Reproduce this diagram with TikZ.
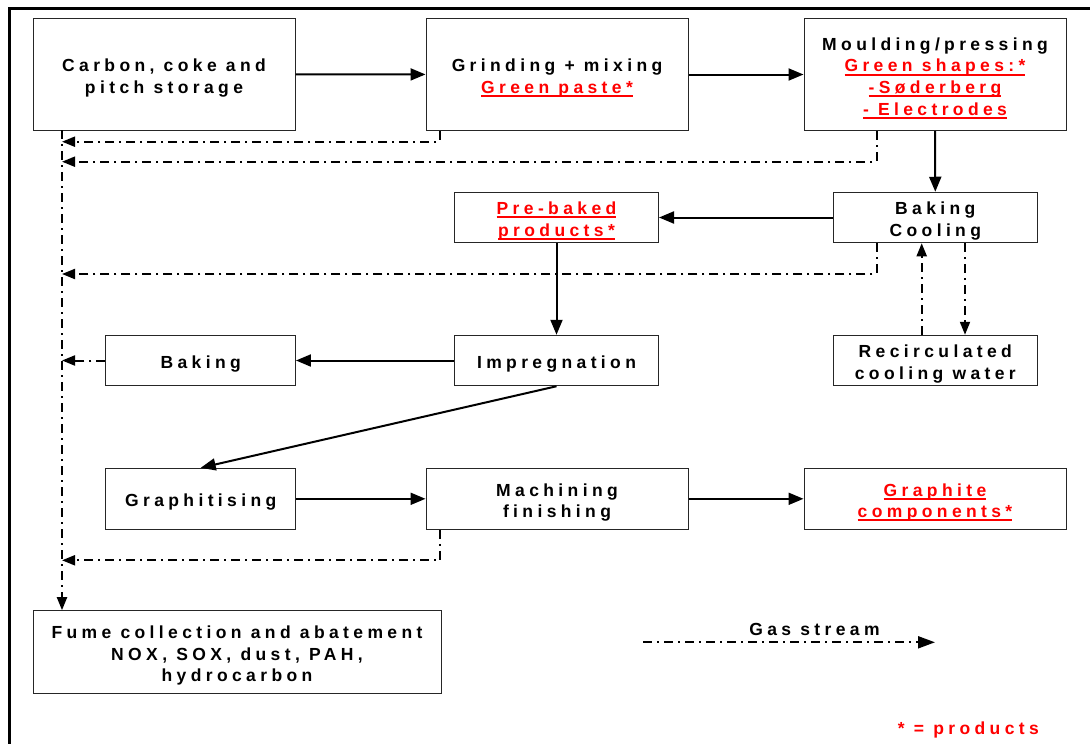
\documentclass[tikz,border=0pt]{standalone}
\usepackage{fontspec}
\setmainfont{Liberation Sans}
\newfontfamily\boxfont{Liberation Sans}[LetterSpace=25,Ligatures=NoCommon]
\usetikzlibrary{arrows.meta}
\definecolor{prodred}{RGB}{255,0,0}
\newcommand\flowfont{\boxfont\bfseries\fontsize{17.5}{21.6}\selectfont}
% taller first line, drops the text a little in its box
\newcommand\topstrut{\rule{0pt}{20pt}}
% red underlined product names
\newcommand\prodtext[1]{\textcolor{prodred}{\setbox0\hbox{#1}\rlap{\rule[-3.6pt]{\wd0}{2pt}}\box0}}
\tikzset{>={Triangle[length=15pt,width=12pt]}}
\tikzset{
  box/.style={draw=black!85, line width=1pt, align=center, inner sep=0pt, font=\flowfont},
  bigbox/.style={box, minimum width=262pt, minimum height=112pt},
  midbox/.style={box, minimum width=204pt, minimum height=50.5pt},
  shortbox/.style={box, minimum width=189.5pt, minimum height=50.5pt},
  lbl/.style={inner sep=0pt, font=\flowfont},
  flow/.style={->, line width=2pt},
  gas/.style={-{Triangle[length=13pt,width=10pt]}, line width=2pt, dash pattern=on 9pt off 5pt on 2pt off 5pt},
}

\begin{document}
\begin{tikzpicture}[x=1pt,y=-1pt]
  \useasboundingbox (0,0) rectangle (1090,744);
  % frame
  \draw[line width=2.5pt] (1090,8.7) -| (9.7,744);

  % process boxes
  \node[bigbox] (store) at (164,74.3) {\topstrut Carbon, coke and\\pitch storage};
  \node[bigbox] (grind) at (557,74.5) {\topstrut Grinding + mixing\\\prodtext{Green paste*}};
  \node[bigbox] (mould) at (935,74.5) {\topstrut Moulding/pressing\\\prodtext{Green shapes:*}\\\prodtext{-Søderberg}\\\prodtext{- Electrodes}};
  \node[midbox] (prebaked) at (556.5,217.5) {\topstrut\prodtext{Pre-baked}\\\prodtext{products*}};
  \node[midbox] (bakecool) at (935.3,217.5) {\topstrut Baking\\Cooling};
  \node[shortbox] (baking) at (200.7,360.5) {\topstrut Baking};
  \node[midbox] (impreg) at (556.5,360.5) {\topstrut Impregnation};
  \node[midbox] (water) at (935.3,360.5) {\topstrut Recirculated\\cooling water};
  \node[shortbox, minimum height=61pt] (graphit) at (200.7,498.8) {\topstrut Graphitising};
  \node[bigbox, minimum height=61pt] (machining) at (557,498.8) {\topstrut Machining\\finishing};
  \node[bigbox, minimum height=61pt] (graphite) at (935,498.8) {\topstrut\prodtext{Graphite}\\\prodtext{components*}};
  \node[box, minimum width=408pt, minimum height=82.6pt] (fume) at (237,652) {\topstrut Fume collection and abatement\\NOX, SOX, dust, PAH,\\hydrocarbon};

  % material flow
  \draw[flow] (store) -- (grind);
  \draw[flow] (grind) -- (mould);
  \draw[flow] (mould.south) -- (bakecool.north);
  \draw[flow] (bakecool) -- (prebaked);
  \draw[flow] (prebaked) -- (impreg);
  \draw[flow] (impreg) -- (baking);
  \draw[flow] (impreg.south) -- (graphit.north);
  \draw[flow] (graphit) -- (machining);
  \draw[flow] (machining) -- (graphite);

  % gas streams
  \coordinate (trunk) at (62,130);
  \coordinate (in1) at (62,141.7);
  \coordinate (in2) at (62,161.7);
  \coordinate (in3) at (62,274);
  \coordinate (in5) at (62,560.3);
  \draw[gas] (trunk) -- (trunk |- fume.north);
  \draw[gas] ([xshift=14pt]grind.south west) |- (in1);
  \draw[gas] ([xshift=73pt]mould.south west) |- (in2);
  \draw[gas] ([xshift=43.7pt]bakecool.south west) |- (in3);
  \draw[gas] (baking.west) -- (baking.west -| trunk);
  \draw[gas] ([xshift=14.6pt]machining.south west) |- (in5);

  % cooling water loop
  \draw[gas] ([xshift=-13.6pt]water.north) -- ([xshift=-13.6pt]bakecool.south);
  \draw[gas] ([xshift=29.7pt]bakecool.south) -- ([xshift=29.7pt]water.north);

  % legend
  \coordinate (legA) at (643,642.3);
  \coordinate (legB) at (935,642.3);
  \draw[gas, -{Triangle[length=17pt,width=12pt]}] (legA) -- (legB);
  \node[lbl, anchor=base] (gaslbl) at (814.5,635) {Gas stream};
  \node[lbl, anchor=base, text=prodred] (note) at (968.3,734.3) {* = products};
\end{tikzpicture}
\end{document}
